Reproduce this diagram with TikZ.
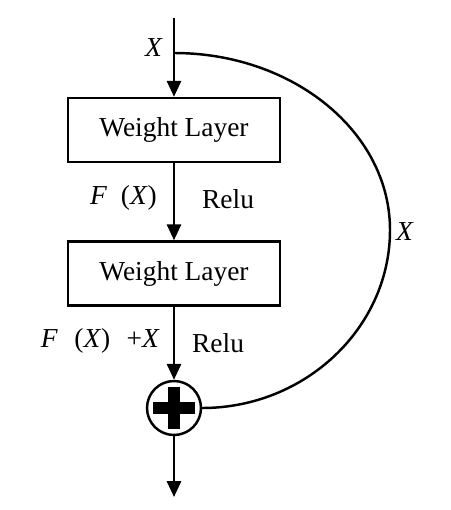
\documentclass[tikz,border=0pt]{standalone}
\usepackage{fontspec}
\setmainfont{Liberation Serif}
\usetikzlibrary{arrows.meta}

\begin{document}
\begin{tikzpicture}[x=0.02cm,y=-0.02cm,
    every node/.style={font=\fontsize{15.6}{18}\selectfont},
    layer/.style={draw,line width=1.4pt,minimum width=4.24cm,minimum height=1.28cm,inner sep=0pt},
    adder/.style={circle,draw,line width=1.4pt,minimum size=1.08cm,inner sep=0pt},
    flow/.style={line width=1.4pt,-{Triangle[width=8pt,length=9pt]}},
    link/.style={line width=1.4pt}]
    \useasboundingbox (0,0) rectangle (450,510);

    \coordinate (in) at (174,18);
    \coordinate (split) at (174,53);
    \coordinate (bend) at (390,230);
    \coordinate (out) at (174,497);

    \node[layer] (w1) at (174,130) {Weight Layer};
    \node[layer] (w2) at (174,273.5) {Weight Layer};
    \node[adder] (add) at (174,408) {};
    \fill (add.center) ++(-21,-6) rectangle ++(42,12);
    \fill (add.center) ++(-6,-21) rectangle ++(12,42);

    \draw[flow] (in) -- (w1);
    \draw[flow] (w1) -- (w2);
    \draw[flow] (w2) -- (add);
    \draw[flow] (add) -- (out);
    \draw[link] (split) .. controls (293,53) and (390,132) .. (bend)
        .. controls (390,328) and (305,408) .. (add.east);

    \node (xin) at (154,48) {\textit{X}};
    \node[anchor=east] (fx) at (163,198) {\textit{F}\hspace{0.5em}(\textit{X})};
    \node[anchor=west] (relu1) at (196,199) {Relu};
    \node (xskip) at (405,232) {\textit{X}};
    \node[anchor=east] (fxx) at (166,341) {\textit{F}\hspace{0.6em}(\textit{X})\hspace{0.6em}+\textit{X}};
    \node[anchor=west] (relu2) at (186,343) {Relu};
\end{tikzpicture}
\end{document}
